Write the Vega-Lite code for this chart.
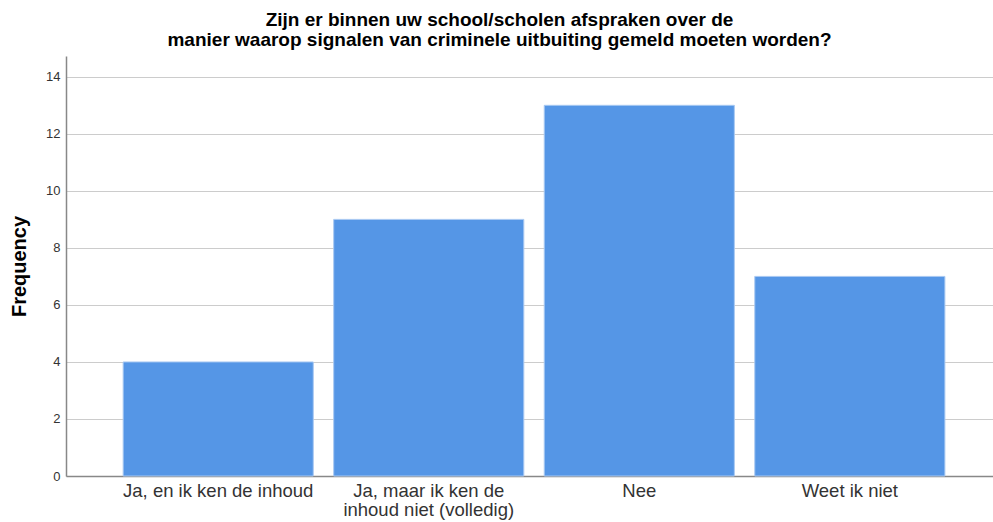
{
  "$schema": "https://vega.github.io/schema/vega-lite/v6.json",
  "width": 927,
  "height": 420,
  "autosize": "none",
  "padding": {"left": 66, "top": 56, "right": 0, "bottom": 46},
  "background": "white",
  "title": {
    "text": ["Zijn er binnen uw school/scholen afspraken over de", "manier waarop signalen van criminele uitbuiting gemeld moeten worden?"],
    "font": "Liberation Sans",
    "fontSize": 19,
    "fontWeight": "bold",
    "color": "#000000",
    "lineHeight": 20,
    "anchor": "middle",
    "dx": -30,
    "offset": 6
  },
  "config": {
    "view": {"stroke": null},
    "axis": {"labelFont": "Liberation Sans", "titleFont": "Liberation Sans"}
  },
  "data": {
    "values": [
      {"category": "Ja, en ik ken de inhoud", "frequency": 4},
      {"category": "Ja, maar ik ken de inhoud niet (volledig)", "frequency": 9},
      {"category": "Nee", "frequency": 13},
      {"category": "Weet ik niet", "frequency": 7}
    ]
  },
  "mark": {"type": "bar", "color": "#5596E6", "stroke": "#A9C9F2", "strokeWidth": 1},
  "encoding": {
    "x": {
      "field": "category",
      "type": "nominal",
      "sort": null,
      "scale": {"paddingInner": 0.097, "paddingOuter": 0.25, "align": 0.543},
      "axis": {
        "title": null,
        "labelAngle": 0,
        "labelFontSize": 18.5,
        "labelColor": "#333333",
        "labelPadding": 5,
        "labelLineHeight": 19,
        "labelLimit": 0,
        "ticks": false,
        "domainColor": "#888888",
        "domainWidth": 1.5,
        "labelExpr": "datum.label == 'Ja, maar ik ken de inhoud niet (volledig)' ? ['Ja, maar ik ken de', 'inhoud niet (volledig)'] : datum.label"
      }
    },
    "y": {
      "field": "frequency",
      "type": "quantitative",
      "scale": {"domain": [0, 14.73], "nice": false},
      "axis": {
        "title": "Frequency",
        "titleFontSize": 20,
        "titleFontWeight": "bold",
        "titleColor": "#000000",
        "titlePadding": 16,
        "values": [0, 2, 4, 6, 8, 10, 12, 14],
        "labelFontSize": 13,
        "labelColor": "#333333",
        "labelPadding": 6,
        "ticks": false,
        "domainColor": "#888888",
        "domainWidth": 1.5,
        "grid": true,
        "gridColor": "#CCCCCC",
        "gridWidth": 1.2
      }
    }
  }
}
